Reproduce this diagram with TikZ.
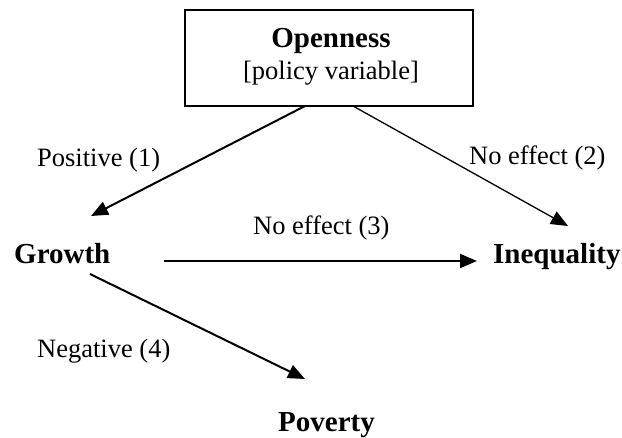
\documentclass[tikz,border=0pt]{standalone}
\usepackage{fontspec}
\setmainfont{Liberation Serif}
\usetikzlibrary{arrows.meta}
\tikzset{
  lbl/.style={inner sep=0pt, anchor=base west, font=\fontsize{26.5}{30}\selectfont},
  var/.style={inner sep=0pt, anchor=base west, font=\fontsize{29}{32}\selectfont\bfseries},
  arr/.style={line width=2pt, -{Triangle[length=17pt,width=14pt]}},
  thinarr/.style={line width=1.3pt, -{Triangle[length=17pt,width=14pt]}},
  policybox/.style={draw, line width=2pt, minimum width=288pt, minimum height=96pt, inner sep=0pt}
}
\begin{document}
\begin{tikzpicture}[x=1pt,y=-1pt]
\useasboundingbox (0,0) rectangle (622,438);
\node[policybox] (box) at (329,58) {};
\node[var, anchor=base] (open) at (331,48) {Openness};
\node[lbl, anchor=base] (pol) at (331,80) {[policy variable]};
\node[var] (growth) at (14,264) {Growth};
\node[var] (ineq) at (493,264) {Inequality};
\node[var] (pov) at (278,432) {Poverty};
\node[lbl] (l1) at (37,167) {Positive (1)};
\node[lbl] (l2) at (469,165) {No effect (2)};
\node[lbl] (l3) at (253,235) {No effect (3)};
\node[lbl] (l4) at (37,358) {Negative (4)};
\coordinate (a1s) at (305,106);
\coordinate (a1e) at (91,216);
\coordinate (a2s) at (353,106);
\coordinate (a2e) at (568,226);
\coordinate (a3s) at (164,261);
\coordinate (a3e) at (477,261);
\coordinate (a4s) at (90,274);
\coordinate (a4e) at (305,379);
\draw[arr] (a1s) -- (a1e);
\draw[thinarr] (a2s) -- (a2e);
\draw[arr] (a3s) -- (a3e);
\draw[arr] (a4s) -- (a4e);
\end{tikzpicture}
\end{document}
